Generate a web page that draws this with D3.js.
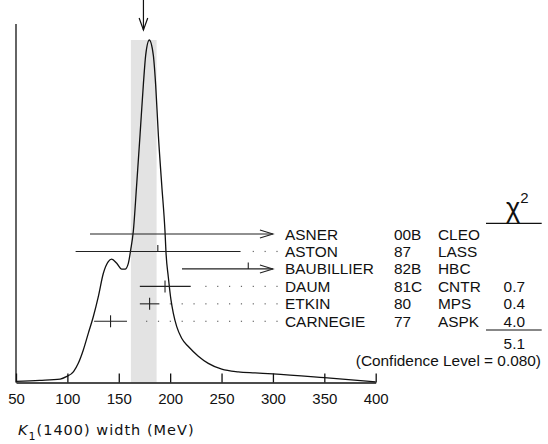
<!DOCTYPE html>
<html>
<head>
    <title>K1(1400) width ideogram</title>
    <meta charset="utf-8">
    <script src="https://cdn.jsdelivr.net/npm/d3@7"></script>
    <style>
        body { margin: 0; background: #fff; }
        svg { display: block; }
        text { font-family: "Liberation Sans", Arial, sans-serif; fill: #111; }
        .axis path, .axis line { stroke: #111; stroke-width: 1.3px; }
        .axis text { font-size: 15px; }
        line.bar { stroke: #222; stroke-width: 1.1px; }
        .ideogram { fill: none; stroke: #111; stroke-width: 1.3px; }
    </style>
</head>
<body>
    <svg width="548" height="444"></svg>

    <script>
        // Measurements (MeV)
        var authors    = ["ASNER", "ASTON", "BAUBILLIER", "DAUM", "ETKIN", "CARNEGIE"];
        var years      = ["00B", "87", "82B", "81C", "80", "77"];
        var techniques = ["CLEO", "LASS", "HBC", "CNTR", "MPS", "ASPK"];
        var values     = [410, 188, 276, 195, 180, 142];
        var lowEnds    = [122, 108, 211.5, 170.5, 170.5, 126];
        var highEnds   = [700, 268.5, 420, 220, 189.5, 158];
        var chi2       = [null, null, null, "0.7", "0.4", "4.0"];
        var chi2Total  = "5.1";
        var confLevel  = "0.080";

        // Weighted average and its error band
        var average = 174;
        var bandLow = 161.8, bandHigh = 186.8;

        // Ideogram: [MeV, height relative to peak]
        var ideogram = [
            [50, 0.003], [73, 0.006], [93, 0.010], [99, 0.017], [106, 0.032], [110.6, 0.056],
            [115.5, 0.095], [120.4, 0.144], [125.2, 0.192], [130.1, 0.251], [135, 0.319],
            [139.8, 0.353], [143.1, 0.360], [148, 0.348], [152.9, 0.331], [156.1, 0.331],
            [159.3, 0.348], [161.6, 0.387], [164.1, 0.440], [167.4, 0.577], [170.7, 0.723],
            [173.9, 0.869], [176.2, 0.956], [179.7, 1.0], [183.6, 0.956], [185.9, 0.869],
            [188.5, 0.723], [191.8, 0.577], [195, 0.440], [196, 0.377], [198.2, 0.308],
            [200.8, 0.241], [203.1, 0.202], [206.4, 0.163], [211.2, 0.129], [217.7, 0.105],
            [227.4, 0.077], [237.1, 0.056], [250.2, 0.039], [266.3, 0.031], [282.6, 0.028],
            [300, 0.025], [350, 0.014], [400, 0.002]
        ];

        var tickValues = [50, 100, 150, 200, 250, 300, 350, 400];
        var clipMax = 300; // error bars beyond this get an arrow

        var svg = d3.select("svg");
        var axisY = 382.5;
        var fs = 15.4;

        var x = d3.scaleLinear().domain([50, 400]).range([16, 375.7]);
        var y = d3.scaleLinear().domain([0, 1]).range([axisY, 40]);
        var row = d3.scalePoint().domain(authors).range([234, 321.3]);

        // Error band
        svg.append("rect")
            .attr("x", x(bandLow)).attr("y", y(1))
            .attr("width", x(bandHigh) - x(bandLow))
            .attr("height", axisY - y(1))
            .attr("fill", "#e3e3e3");

        // Left frame line
        svg.append("line")
            .attr("x1", x(50)).attr("x2", x(50))
            .attr("y1", 24).attr("y2", axisY)
            .attr("stroke", "#111").attr("stroke-width", 1.3);

        // Average arrow
        var ax = x(average);
        svg.append("line").attr("x1", ax).attr("x2", ax).attr("y1", 0).attr("y2", 30)
            .attr("stroke", "#111").attr("stroke-width", 1.2);
        svg.append("path")
            .attr("d", "M" + (ax - 4.3) + ",18 L" + ax + ",30 L" + (ax + 4.3) + ",18")
            .attr("fill", "none").attr("stroke", "#111").attr("stroke-width", 1.2);

        // Ideogram curve
        var line = d3.line()
            .curve(d3.curveMonotoneX)
            .x(function (d) { return x(d[0]); })
            .y(function (d) { return y(d[1]); });

        svg.append("path").datum(ideogram).attr("class", "ideogram").attr("d", line);

        // Axis
        var axis = d3.axisBottom(x).tickValues(tickValues).tickSizeInner(-9).tickSizeOuter(0).tickPadding(11);
        var gAxis = svg.append("g").attr("class", "axis")
            .attr("transform", "translate(0," + axisY + ")")
            .call(axis);
        gAxis.selectAll("text").attr("fill", "#111");

        // Error bars
        var dotGrid = d3.range(0, 12).map(function (k) { return 277 - 11.85 * k; });

        authors.forEach(function (name, i)
        {
            var ry = row(name);
            var x0 = x(lowEnds[i]);
            var clipped = highEnds[i] > clipMax;
            var x1 = x(Math.min(highEnds[i], clipMax));

            svg.append("line").attr("class", "bar")
                .attr("x1", x0).attr("x2", x1).attr("y1", ry).attr("y2", ry);

            if (clipped)
            {
                svg.append("path")
                    .attr("d", "M" + (x1 - 13) + "," + (ry - 4) + " L" + x1 + "," + ry + " L" + (x1 - 13) + "," + (ry + 4))
                    .attr("fill", "none").attr("stroke", "#222").attr("stroke-width", 1.1);
            }

            if (values[i] <= clipMax)
            {
                var vx = x(values[i]);
                var used = chi2[i] !== null;
                svg.append("line").attr("class", "bar")
                    .attr("x1", vx).attr("x2", vx)
                    .attr("y1", ry - (used ? 6 : 6.5)).attr("y2", used ? ry + 6 : ry);
            }

            // dotted leader to the label
            if (!clipped)
            {
                dotGrid.filter(function (d) { return d > x1 + 10; }).forEach(function (d)
                {
                    svg.append("rect").attr("x", d - 0.6).attr("y", ry - 0.6)
                        .attr("width", 1.2).attr("height", 1.2).attr("fill", "#666");
                });
            }

            var by = ry + 5.5;
            svg.append("text").attr("x", 285).attr("y", by).attr("font-size", fs).text(name);
            svg.append("text").attr("x", 394).attr("y", by).attr("font-size", fs).text(years[i]);
            svg.append("text").attr("x", 438).attr("y", by).attr("font-size", fs).text(techniques[i]);
            if (chi2[i] !== null)
            {
                svg.append("text").attr("x", 525).attr("y", by).attr("font-size", fs)
                    .attr("text-anchor", "end").text(chi2[i]);
            }
        });

        // Chi-squared column
        var chiHead = svg.append("text").attr("x", 506).attr("y", 217).attr("font-size", 27);
        chiHead.append("tspan").text("\u03C7");
        chiHead.append("tspan").attr("font-size", 15).attr("dy", -14).text("2");

        svg.append("line").attr("x1", 486).attr("x2", 541.7).attr("y1", 223.3).attr("y2", 223.3)
            .attr("stroke", "#111").attr("stroke-width", 1.2);
        svg.append("line").attr("x1", 486).attr("x2", 541.7).attr("y1", 330).attr("y2", 330)
            .attr("stroke", "#111").attr("stroke-width", 1.2);

        svg.append("text").attr("x", 525).attr("y", 348.5).attr("font-size", fs)
            .attr("text-anchor", "end").text(chi2Total);
        svg.append("text").attr("x", 541).attr("y", 366).attr("font-size", fs)
            .attr("text-anchor", "end").text("(Confidence Level = " + confLevel + ")");

        // Axis title
        var title = svg.append("text").attr("x", 18).attr("y", 435)
            .style("font-family", "'DejaVu Sans', sans-serif").attr("font-size", 14.5)
            .attr("letter-spacing", 1);
        title.append("tspan").attr("font-style", "italic").text("K");
        title.append("tspan").attr("font-size", 11).attr("dy", 5).text("1");
        title.append("tspan").attr("dy", -5).text("(1400) width (MeV)");
    </script>
</body>
</html>
